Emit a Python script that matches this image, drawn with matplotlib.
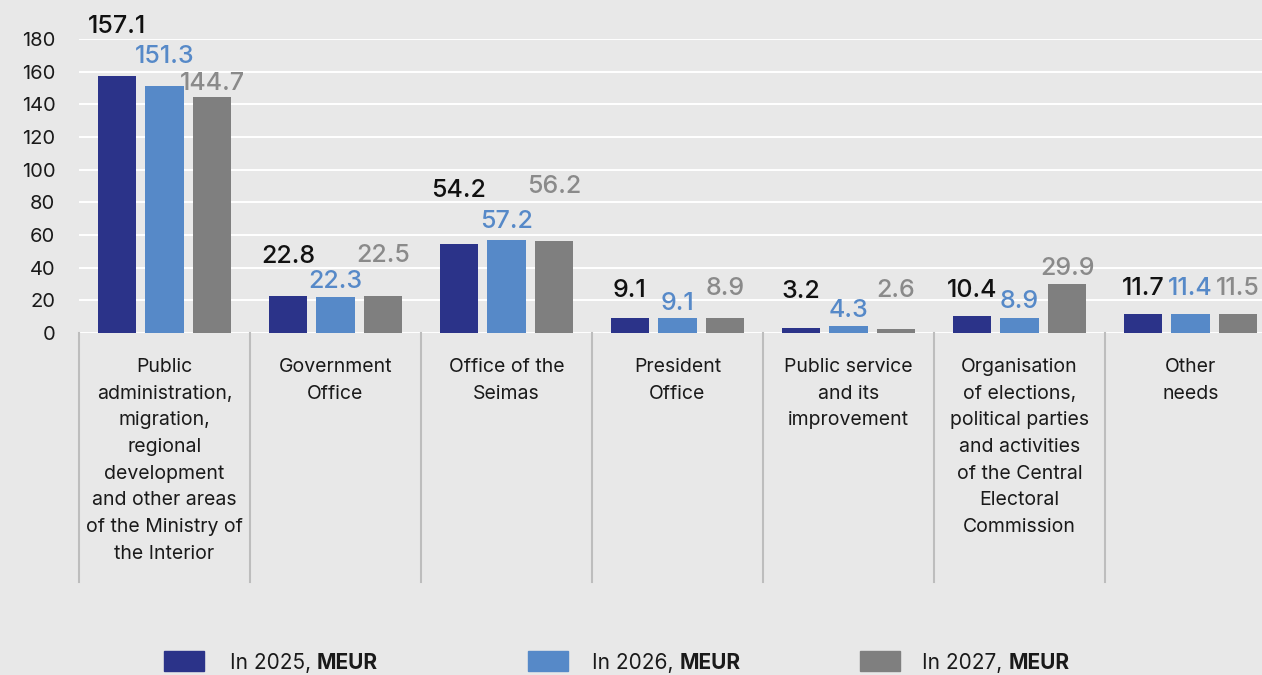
import matplotlib
matplotlib.use('Agg')
import matplotlib.pyplot as plt
import matplotlib.transforms as mtransforms
from matplotlib.patches import Rectangle

# ---------------- data ----------------
categories = [
    "Public\nadministration,\nmigration,\nregional\ndevelopment\nand other areas\nof the Ministry of\nthe Interior",
    "Government\nOffice",
    "Office of the\nSeimas",
    "President\nOffice",
    "Public service\nand its\nimprovement",
    "Organisation\nof elections,\npolitical parties\nand activities\nof the Central\nElectoral\nCommission",
    "Other\nneeds",
]
series_names = ["In 2025,", "In 2026,", "In 2027,"]
unit_label = "MEUR"
v2025 = [157.1, 22.8, 54.2, 9.1, 3.2, 10.4, 11.7]
v2026 = [151.3, 22.3, 57.2, 9.1, 4.3, 8.9, 11.4]
v2027 = [144.7, 22.5, 56.2, 8.9, 2.6, 29.9, 11.5]
yticks = [0, 20, 40, 60, 80, 100, 120, 140, 160, 180]

# ---------------- layout / style ----------------
W, H = 1262, 675
FONT = ['Inter', 'DejaVu Sans']
plt.rcParams['font.family'] = FONT
bg = '#e8e8e8'
bar_colors = ['#2b3389', '#5689c8', '#7f7f7f']
label_colors = ['#111111', '#5689c8', '#8a8a8a']
# baseline heights (data units) of the staggered value labels
label_base = [
    [183.7, 42.9, 83.3, 22.0, 21.4, 22.0, 23.3],
    [165.3, 27.6, 64.3, 14.1, 9.8, 15.3, 23.3],
    [148.8, 43.5, 85.7, 23.3, 22.0, 35.5, 23.3],
]
offsets = [-0.278, 0.0, 0.278]
bar_w = 0.224

fig = plt.figure(figsize=(W / 100, H / 100), dpi=100, facecolor=bg)
ax_left, ax_right, ax_top, ax_bottom = 79, 1276, 39, 333
ax = fig.add_axes([ax_left / W, 1 - ax_bottom / H, (ax_right - ax_left) / W, (ax_bottom - ax_top) / H])
ax.set_facecolor(bg)

series = [v2025, v2026, v2027]
n = len(categories)
xs = list(range(n))
for s, vals in enumerate(series):
    ax.bar([x + offsets[s] for x in xs], vals, width=bar_w, color=bar_colors[s], zorder=3)
    for i, v in enumerate(vals):
        ax.text(i + offsets[s], label_base[s][i], f"{v:.1f}", ha='center', va='baseline',
                fontsize=18, fontweight='medium', color=label_colors[s], clip_on=False, zorder=4)

ax.set_xlim(-0.5, n - 0.5)
ax.set_ylim(0, 180)
ax.set_yticks(yticks)
ax.set_yticklabels([str(t) for t in yticks], fontsize=14.5, color='#1a1a1a')
ax.tick_params(axis='y', length=0, pad=17)
ax.set_xticks([])
ax.grid(axis='y', color='white', linewidth=1.4, zorder=0)
ax.set_axisbelow(True)
for sp in ax.spines.values():
    sp.set_visible(False)

# category separators and labels
trans = mtransforms.blended_transform_factory(ax.transData, ax.transAxes)
sep_bottom = -(582 - ax_bottom) / (ax_bottom - ax_top)
for i in range(n + 1):
    ax.plot([i - 0.5, i - 0.5], [0, sep_bottom], transform=trans, color='#bdbdbd',
            linewidth=1.5, clip_on=False, zorder=1)

trans_lab = mtransforms.blended_transform_factory(ax.transData, fig.transFigure)
for i, c in enumerate(categories):
    ax.text(i, 1 - 358 / H, c, transform=trans_lab, ha='center', va='top', fontsize=14,
            color='#1a1a1a', linespacing=1.62, multialignment='center')

# legend
leg_sq_x = [164, 528, 860]
leg_tx_x = [230, 592, 922]
fig.canvas.draw()
renderer = fig.canvas.get_renderer()
for s in range(3):
    fig.add_artist(Rectangle((leg_sq_x[s] / W, 1 - 671 / H), 40 / W, 20 / H,
                             transform=fig.transFigure, color=bar_colors[s]))
    t = fig.text(leg_tx_x[s] / W, 1 - 669 / H, series_names[s] + " ", ha='left', va='baseline',
                 fontsize=15, color='#1a1a1a')
    bb = t.get_window_extent(renderer=renderer)
    fig.text(bb.x1 / W, 1 - 669 / H, unit_label, ha='left', va='baseline', fontsize=15,
             fontweight='bold', color='#1a1a1a')

fig.savefig('out.png', dpi=100, facecolor=bg)
